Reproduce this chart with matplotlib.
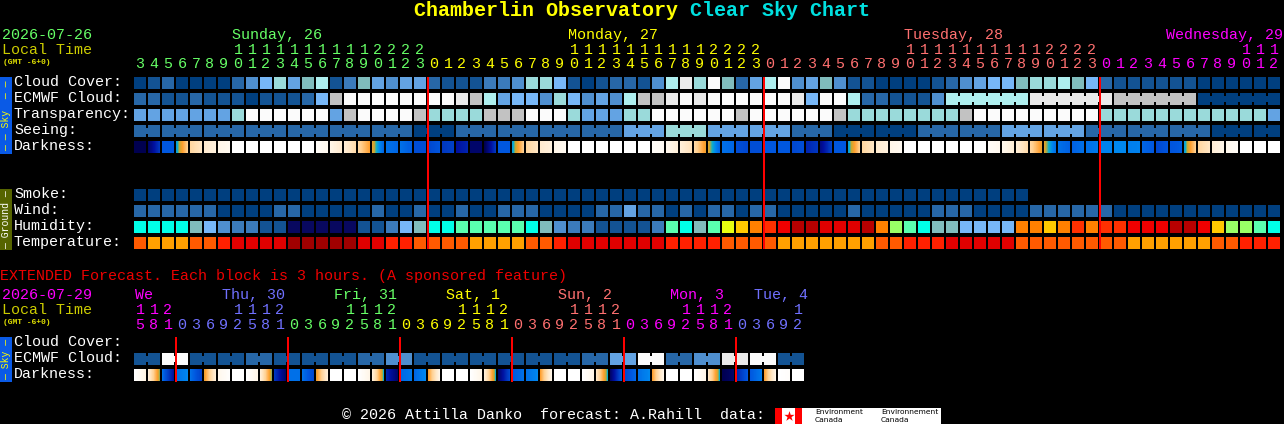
import numpy as np
import matplotlib
matplotlib.use("Agg")
import matplotlib.pyplot as plt
from matplotlib.colors import LinearSegmentedColormap
from matplotlib.patches import Rectangle

# block colours, one letter per level
palette = {
    "W": "#fbfbfb", "E": "#eaeaea", "G": "#c2c2c2", "A": "#aeeeee", "D": "#9adada",
    "T": "#80bcbc", "L": "#77b7f7", "M": "#63a3e3", "N": "#4f8fcf", "O": "#3b7bbb",
    "P": "#2767a7", "Q": "#135393", "R": "#003f7f",
    "v": "#08085f", "c": "#00ffe8", "g": "#5affaf", "l": "#99ff66", "h": "#e8ff10",
    "y": "#ffc800", "n": "#ff8000", "s": "#ff3000", "f": "#f00000", "b": "#b80000",
    "o": "#ff5a00", "a": "#ffa000", "t": "#ff2000", "e": "#e00000", "d": "#a00000",
}

hours = list(range(3, 24)) + list(range(24)) * 2 + list(range(13))
hour_days = [0] * 21 + [1] * 24 + [2] * 24 + [3] * 13
day_colors = ["#66ff66", "#ffff00", "#ff7070", "#ff00ff"]
day_names = ["Sunday, 26", "Monday, 27", "Tuesday, 28", "Wednesday, 29"]
day_label_x = [232, 568, 904, 1166.5]

cloud_cover = list("RQPRRRRPNLDMTAQOTMNMM" "PQQQOONDDLQRQPPQNAEDWTPM"
                   "AWNMTNQQRRRRQPNMLLTDDATL" "PQQQQQQRRRRRR")
# one letter per run: single hours first, then the four 6 hour runs
ecmwf_cloud = list("PPQQPQQQRQQQPLGWWWWWW" "WWEGAMLLNDLNMNAGGEWEWWWW"
                   "WWELWWAPPQQQN" "AEGR")
ecmwf_sizes = [1] * 58 + [6, 6, 6, 6]
transparency = list("MMMMMMMDWWWWWWMGWWWWG" "DDDDGGGWWWDMMMDDWWWWWWGW"
                    "WWWWWGDDDDDDDDGWWWWWWWWW" "DDDDDDDDDDDDM")
seeing = list("PPPPPPPR" "PPPPMDMMPRRPPMMPPPRR")
seeing_sizes = [2] + [3] * 26 + [2]
smoke = ["R"] * 64
wind = list("PPPPPPRRRRPPRRRRRPRRP" "RRPRRPPPRRRRPPMPPRPRPPRP"
            "PRRRRRPRRRRRPPPRRRRPPPPP" "PRRRRRRRRRRRR")
humidity = list("ccccTLNOOQQvvvvvQQOLT" "ccgggggcTNOOQQQQOgcTghyn"
                "sfbbeeebnlgcTTLLLLnnynsn" "ssfffbbfyllgc")
temperature = list("oaaaooteeeedddddeetto" "oooaaaaooteeeeeeettttooo"
                   "oaaaaaaaoottteeeeeoooooo" "ooaaaaaaoottt")

darkness = [(1, 1), (.95, .75), (.65, .65), (.52, .3), (.27, .2), (.17, .13), (.1, .06),
            (0, 0), (0, 0), (0, 0), (0, 0), (0, 0), (0, 0),
            (.03, .07), (.1, .17), (.15, .25), (.27, .4), (.43, .62), (.6, .62), (.6, .64), (.68, .68),
            # monday
            (.7, .66), (.75, .72), (.85, .8), (.95, .95), (1, .75), (.65, .65), (.52, .3), (.27, .2),
            (.17, .13), (.1, .06), (0, 0), (0, 0), (0, 0), (0, 0), (0, 0), (0, 0),
            (.03, .05), (.08, .14), (.14, .22), (.26, .42), (.44, .62), (.6, .62), (.68, .7), (.68, .68),
            # tuesday
            (.65, .65), (.65, .65), (.7, .68), (.8, .75), (.9, .72), (.65, .65), (.52, .3), (.27, .2),
            (.17, .13), (.1, .06), (0, 0), (0, 0), (0, 0), (0, 0), (0, 0), (0, 0),
            (.03, .07), (.08, .15), (.15, .25), (.27, .42), (.44, .6), (.6, .63), (.63, .6), (.6, .58),
            # wednesday
            (.56, .56), (.55, .55), (.57, .56), (.62, .65), (.7, .66), (.66, .64), (.52, .3), (.27, .2),
            (.15, .1), (.08, .04), (0, 0), (0, 0), (0, 0)]

ext_hours = [15, 18, 21] + [0, 3, 6, 9, 12, 15, 18, 21] * 5 + [0, 3, 6, 9, 12]
ext_days = [0] * 3 + [1] * 8 + [2] * 8 + [3] * 8 + [4] * 8 + [5] * 8 + [6] * 5
ext_colors = ["#ff00ff", "#7070ff", "#66ff66", "#ffff00", "#ff7070", "#ff00ff", "#7070ff"]
ext_names = ["We", "Thu, 30", "Fri, 31", "Sat, 1", "Sun, 2", "Mon, 3", "Tue, 4"]
ext_label_x = [135, 222, 334, 446, 558, 670, 754]
ext_cloud = list("QWQQPQQQPNQQQQQQPMWPNEWQ")
ext_darkness = [(0, .12), (.15, .47), (.6, .85), (.6, .55), (.6, .72), (.42, .15), (.08, .01), (0, 0),
                (0, .1), (.15, .47), (.75, .95), (.6, .6), (.6, .7), (.42, .15), (0, 0), (0, 0),
                (0, .1), (.15, .5), (.8, .95), (.62, .58), (.62, .55), (.4, .1), (0, 0), (0, 0),
                (0, .1), (.15, .5), (.95, .7), (.65, .6), (.6, .55), (.4, .1), (0, 0), (0, 0),
                (0, .1), (.2, .5), (.95, .65), (.7, .62), (.6, .55), (.4, .1), (0, 0), (0, 0),
                (0, .1), (.2, .5), (1, .95), (.8, .65), (.65, .58), (.4, .1), (0, .02), (0, 0)]

sky_labels = ["Cloud Cover:", "ECMWF Cloud:", "Transparency:", "Seeing:", "Darkness:"]
ground_labels = ["Smoke:", "Wind:", "Humidity:", "Temperature:"]
ext_labels = ["Cloud Cover:", "ECMWF Cloud:", "Darkness:"]

# darkness goes white (day) through orange and blue to navy (night)
dark_cmap = LinearSegmentedColormap.from_list("dark", [
    (0, "#ffffff"), (.1, "#fff6e8"), (.2, "#ffe6c4"), (.3, "#ffd090"), (.4, "#ffa030"),
    (.46, "#c8a830"), (.5, "#10b0c8"), (.55, "#0088f0"), (.65, "#0058e0"), (.75, "#0038c0"),
    (.85, "#0010a0"), (1, "#000050")])

COL0 = 134
PITCH = 14
BLOCK = 12
MONO = "Liberation Mono"

fig = plt.figure(figsize=(12.84, 4.24), dpi=100, facecolor="black")
ax = fig.add_axes([0, 0, 1, 1])
ax.set_facecolor("black")
ax.axis("off")


def box(x, y, w, h, color, z=2):
    ax.add_patch(Rectangle((x, y), w, h, facecolor=color, linewidth=0, antialiased=False, zorder=z))


def draw_row(values, y):
    for i, v in enumerate(values):
        box(COL0 + PITCH * i, y, BLOCK, BLOCK, palette[v])


def draw_groups(values, sizes, y):
    # runs of blocks that share one value, held together by a narrow neck
    col = 0
    for v, size in zip(values, sizes):
        for k in range(size):
            box(COL0 + PITCH * (col + k), y, BLOCK, BLOCK, palette[v])
            if k < size - 1:
                box(COL0 + PITCH * (col + k) + BLOCK, y + 3, PITCH - BLOCK, BLOCK - 6, palette[v])
        col += size


def draw_darkness(values, y):
    for i, (start, end) in enumerate(values):
        x = COL0 + PITCH * i
        ax.imshow(np.linspace(start, end, BLOCK)[None, :], cmap=dark_cmap, vmin=0, vmax=1, aspect="auto",
                  interpolation="nearest", extent=(x, x + BLOCK, y + BLOCK, y), zorder=2)


def label(x, y, s, color="white", size=10.8, **kw):
    ax.text(x, y, s, color=color, fontsize=size, family=MONO, va="center", **kw)


def side_band(y0, y1, color, text, text_color):
    box(0, y0, 12, y1 - y0, color)
    ax.text(6, (y0 + y1) / 2, text, color=text_color, fontsize=7, family=MONO, rotation=90,
            ha="center", va="center", zorder=3)


# title
label(414, 11, "Chamberlin Observatory", "#ffff00", 14.4, fontweight="bold")
label(690, 11, "Clear Sky Chart", "#00e0e0", 14.4, fontweight="bold")

# header of the hourly chart
label(2, 35, "2026-07-26", day_colors[0])
label(2, 50, "Local Time", "#cccc00")
label(3, 62, "(GMT -6+0)", "#e0e000", 5.8, fontweight="bold")
for name, x, c in zip(day_names, day_label_x, day_colors):
    label(x, 35, name, c)
for i, (h, d) in enumerate(zip(hours, hour_days)):
    xc = COL0 + PITCH * i + BLOCK / 2
    if h >= 10:
        label(xc, 50, str(h // 10), day_colors[d], ha="center")
    label(xc, 64, str(h % 10), day_colors[d], ha="center")

# sky rows
for k, s in enumerate(sky_labels):
    label(14, 82 + 16 * k, s)
draw_row(cloud_cover, 77)
draw_groups(ecmwf_cloud, ecmwf_sizes, 93)
draw_row(transparency, 109)
draw_groups(seeing, seeing_sizes, 125)
draw_darkness(darkness, 141)
side_band(77, 154, "#0a5ae6", "\u2014 \u2014 Sky  \u2014 \u2014", "#ffff00")

# ground rows
for k, s in enumerate(ground_labels):
    label(14, 194 + 16 * k, s)
draw_row(smoke, 189)
draw_row(wind, 205)
draw_row(humidity, 221)
draw_row(temperature, 237)
side_band(189, 250, "#566400", "\u2014 Ground \u2014", "white")

# midnight lines
for i, h in enumerate(hours):
    if h == 0:
        box(COL0 + PITCH * i - 1, 77, 2, 172, "#ff0000", z=4)

# extended forecast
label(0, 276, "EXTENDED Forecast. Each block is 3 hours. (A sponsored feature)", "#ee0000")
label(2, 295, "2026-07-29", ext_colors[0])
label(2, 310, "Local Time", "#cccc00")
label(3, 322, "(GMT -6+0)", "#e0e000", 5.8, fontweight="bold")
for name, x, c in zip(ext_names, ext_label_x, ext_colors):
    label(x, 295, name, c)
for i, (h, d) in enumerate(zip(ext_hours, ext_days)):
    xc = COL0 + PITCH * i + BLOCK / 2
    if h >= 10:
        label(xc, 310, str(h // 10), ext_colors[d], ha="center")
    label(xc, 325, str(h % 10), ext_colors[d], ha="center")
for k, s in enumerate(ext_labels):
    label(14, 342 + 16 * k, s)
draw_groups(ext_cloud, [2] * 24, 353)
draw_darkness(ext_darkness, 369)
side_band(337, 382, "#0a5ae6", "\u2014 Sky \u2014", "#ffff00")
for i, h in enumerate(ext_hours):
    if h == 0:
        box(COL0 + PITCH * i - 1, 337, 2, 45, "#ff0000", z=4)

# footer and data credit
label(342, 415, "\u00a9 2026 Attilla Danko  forecast: A.Rahill  data:")
box(775, 408, 166, 16, "white")
box(775, 408, 7, 16, "#ff0000", z=3)
box(795, 408, 7, 16, "#ff0000", z=3)
ax.scatter([788.5], [416], marker="*", s=60, color="#ff0000", linewidths=0, zorder=3)
for x, word in [(815, "Environment"), (881, "Environnement")]:
    ax.text(x, 412, word, color="black", fontsize=5.4, family="DejaVu Sans", va="center", zorder=3)
    ax.text(x, 420, "Canada", color="black", fontsize=5.4, family="DejaVu Sans", va="center", zorder=3)

ax.set_xlim(0, 1284)
ax.set_ylim(424, 0)
fig.savefig("out.png", dpi=100, facecolor="black")
